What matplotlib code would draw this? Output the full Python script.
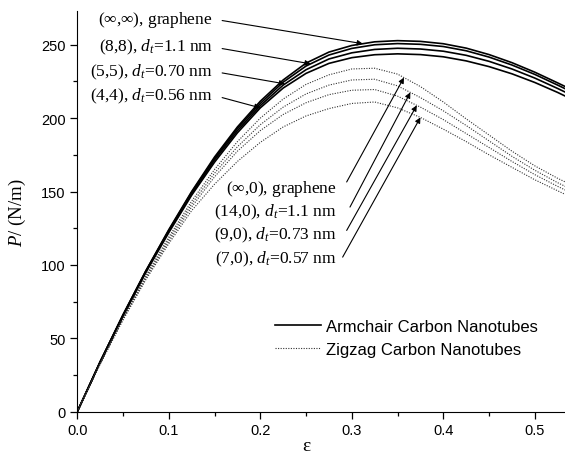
import numpy as np
import matplotlib
matplotlib.use('Agg')
from matplotlib import pyplot as plt
from matplotlib.ticker import MultipleLocator

plt.rcParams['mathtext.fontset'] = 'custom'
plt.rcParams['mathtext.rm'] = 'Liberation Serif'
plt.rcParams['mathtext.it'] = 'Liberation Serif:italic'
plt.rcParams['font.family'] = ['Liberation Sans', 'DejaVu Sans']

eps = [0, .025, .05, .075, .1, .125, .15, .175, .2, .225, .25, .275, .3,
       .325, .35, .375, .4, .425, .45, .475, .5, .525, .535]

# armchair tubes (solid)
arm_inf = [0, 34, 66, 96, 124, 150, 173.5, 194, 211.5, 226, 237.5, 245, 249.5,
           252, 252.8, 252.3, 250.7, 247.7, 243.3, 237.8, 231.3, 224, 221]
arm_88 = [0, 34, 66, 96, 123.5, 149.5, 172.5, 193, 210, 224.5, 235.5, 243, 247.5,
          250, 250.8, 250.3, 248.8, 245.9, 241.6, 236.2, 229.8, 222.5, 219.5]
arm_55 = [0, 34, 65.5, 95.5, 123, 148.5, 171.5, 191.5, 208.5, 222.5, 233, 240.3, 244.5,
          246.8, 247.6, 247.1, 245.6, 242.8, 238.7, 233.5, 227.3, 220.2, 217.2]
arm_44 = [0, 33.5, 65, 95, 122, 147.5, 170, 190, 207, 220.5, 230.5, 237.3, 241.2,
          243.2, 243.8, 243.3, 241.8, 239, 235.1, 230.2, 224.3, 217.5, 214.5]

# zigzag tubes (dotted)
zig_inf = [0, 33, 64, 93, 119, 143.5, 165, 184, 200, 213, 223, 229.5, 233.5,
           234, 230, 221.5, 211, 199.5, 188.5, 177.5, 167.5, 159, 156]
zig_14 = [0, 33, 63.5, 92, 117.5, 141.5, 162.5, 180.5, 195.5, 207.5, 216.5, 222.5, 226,
          226.5, 222, 214, 205, 195, 184.5, 174, 164.5, 156, 153]
zig_9 = [0, 32.5, 63, 91, 116, 139.5, 160, 177.5, 191.5, 202.5, 210.5, 216, 219,
         219.5, 215, 207.5, 199, 189.5, 180, 170.5, 161.5, 153.5, 150.5]
zig_7 = [0, 32.5, 62.5, 90, 114.5, 137, 155, 170.5, 183.5, 194, 201.5, 206.5, 210,
         211, 207, 200.5, 192.5, 184, 175, 166.5, 158, 150.5, 147.5]

arm_curves = [arm_inf, arm_88, arm_55, arm_44]
zig_curves = [zig_inf, zig_14, zig_9, zig_7]

arm_labels = [r'($\infty$,$\infty$), graphene', r'(8,8), $d_t$=1.1 nm',
              r'(5,5), $d_t$=0.70 nm', r'(4,4), $d_t$=0.56 nm']
zig_labels = [r'($\infty$,0), graphene', r'(14,0), $d_t$=1.1 nm',
              r'(9,0), $d_t$=0.73 nm', r'(7,0), $d_t$=0.57 nm']
# strain where each arrow hits its curve
arm_tip_eps = [0.312, 0.255, 0.227, 0.2]
zig_tip_eps = [0.357, 0.364, 0.371, 0.375]

fig = plt.figure(figsize=(5.65, 4.56), dpi=100)
ax = fig.add_axes([0.1368, 0.095, 1 - 0.1368, 0.8787])

for i, y in enumerate(arm_curves):
    ax.plot(eps, y, color='black', lw=1.2,
            label='Armchair Carbon Nanotubes' if i == 0 else None)
for i, y in enumerate(zig_curves):
    ax.plot(eps, y, color='#333333', lw=0.8, ls=(0, (1, 1.3)),
            label='Zigzag Carbon Nanotubes' if i == 0 else None)

serif = ['Liberation Serif', 'DejaVu Serif']
arm_text_y = [265.1, 246.2, 229.2, 212.8]
arm_start_y = [266.5, 247.4, 230.8, 214]
for lab, ty, sy, te, y in zip(arm_labels, arm_text_y, arm_start_y, arm_tip_eps, arm_curves):
    ax.text(0.1483, ty, lab, ha='right', va='baseline', fontsize=12.5, family=serif)
    ax.annotate('', xy=(te, np.interp(te, eps, y)), xytext=(0.1583, sy),
                arrowprops=dict(arrowstyle='-|>', color='black', lw=0.8,
                                mutation_scale=8, shrinkA=0, shrinkB=0))

zig_text_y = [149.7, 133.7, 117.8, 101.9]
zig_start = [(0.2944, 156.5), (0.298, 139.4), (0.2944, 123.5), (0.290, 105.3)]
for lab, ty, st, te, y in zip(zig_labels, zig_text_y, zig_start, zig_tip_eps, zig_curves):
    ax.text(0.2835, ty, lab, ha='right', va='baseline', fontsize=12.5, family=serif)
    ax.annotate('', xy=(te, np.interp(te, eps, y)), xytext=st,
                arrowprops=dict(arrowstyle='-|>', color='black', lw=0.8,
                                mutation_scale=8, shrinkA=0, shrinkB=0))

ax.set_xlim(0, 0.533)
ax.set_ylim(0, 273)
ax.spines['top'].set_visible(False)
ax.spines['right'].set_visible(False)
ax.xaxis.set_major_locator(MultipleLocator(0.1))
ax.xaxis.set_minor_locator(MultipleLocator(0.05))
ax.yaxis.set_major_locator(MultipleLocator(50))
ax.yaxis.set_minor_locator(MultipleLocator(25))
ax.xaxis.set_major_formatter(matplotlib.ticker.FormatStrFormatter('%.1f'))
ax.tick_params(which='major', direction='out', length=5, width=0.9, labelsize=10.5)
ax.tick_params(which='minor', direction='out', length=3, width=0.9)

ax.set_ylabel(r'$P$/ (N/m)', fontsize=13.5, family=serif)
ax.yaxis.set_label_coords(-0.102, 0.5)
ax.set_xlabel('ε', fontsize=14, family=serif)
ax.xaxis.set_label_coords(0.469, -0.062)

ax.legend(loc='upper left', bbox_to_anchor=(0.405, 0.232), frameon=False,
          fontsize=12, handlelength=2.8, handletextpad=0.3, labelspacing=0.5,
          borderpad=0, borderaxespad=0)

fig.savefig('out.png', dpi=100)
